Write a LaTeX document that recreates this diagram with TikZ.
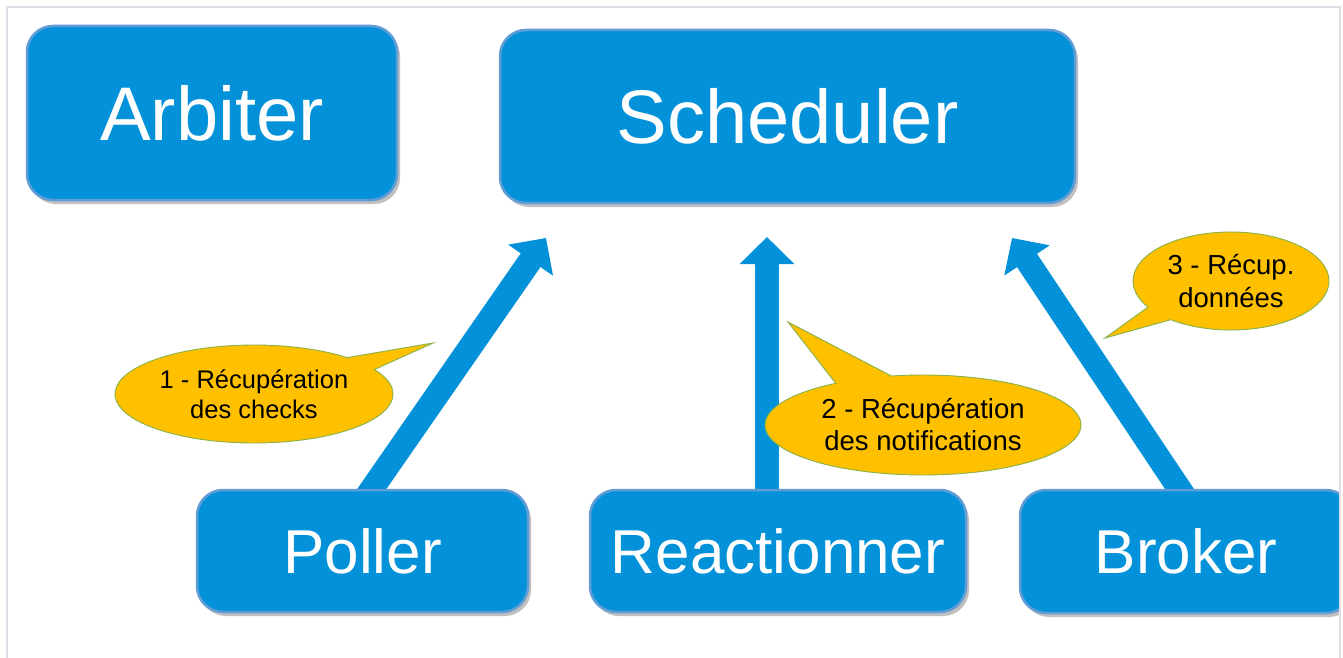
\documentclass[tikz,border=0pt]{standalone}
\usepackage{fontspec}
\setmainfont{Liberation Sans}
\usetikzlibrary{arrows.meta,shapes.callouts,shadows,backgrounds}
\definecolor{boxblue}{RGB}{3,146,217}
\definecolor{boxedge}{RGB}{98,156,214}
\definecolor{calloutfill}{RGB}{255,192,0}
\definecolor{calloutedge}{RGB}{135,178,72}
\definecolor{framegray}{RGB}{222,222,230}
\begin{document}
\begin{tikzpicture}[x=1pt,y=-1pt,
  bluebox/.style={draw=boxedge, line width=2.5pt, fill=boxblue, rounded corners=26pt,
    inner sep=0pt, text=white,
    drop shadow={shadow xshift=3pt, shadow yshift=-4pt, opacity=0.35, fill=black!70}},
  bigtext/.style={font=\fontsize{76}{90}\selectfont},
  smalltext/.style={font=\fontsize{62}{74}\selectfont},
  bubble/.style={ellipse callout, draw=calloutedge, line width=0.9pt, fill=calloutfill,
    inner sep=0pt, align=center, text=black},
  bigarrow/.style={draw=boxblue, line width=24pt,
    -{Triangle[width=53pt,length=27pt]}},
  frameline/.style={draw=framegray, line width=1.5pt}
]
\useasboundingbox (0,0) rectangle (1343,658);

% top boxes
\node[bluebox, bigtext, minimum width=370pt, minimum height=174pt] (arbiter) at (212,113) {Arbiter};
\node[bluebox, bigtext, minimum width=575pt, minimum height=173pt] (scheduler) at (787.5,116.5) {Scheduler};

% bottom boxes
\node[bluebox, smalltext, minimum width=331pt, minimum height=122pt] (poller) at (362.5,551) {Poller};
\node[bluebox, smalltext, minimum width=376pt, minimum height=122pt] (reactionner) at (778,551) {Reactionner};
\begin{scope}
  \clip (0,0) rectangle (1340,658);
  \node[bluebox, smalltext, minimum width=332pt, minimum height=123pt] (broker) at (1186,551.5) {Broker};
\end{scope}

% arrows (behind boxes)
\coordinate (t1) at (546,238);
\coordinate (t2) at (767,237);
\coordinate (t3) at (1012,238);
\begin{scope}[on background layer]
  \fill[white] (0,0) rectangle (1343,658);
  \draw[bigarrow] ([shift={(2.5,10)}]poller.north) -- (t1);
  \draw[bigarrow] ([shift={(-11,10)}]reactionner.north) -- (t2);
  \draw[bigarrow] ([shift={(0,10)}]broker.north) -- (t3);
\end{scope}

% callouts
\coordinate (p1) at (433,343);
\coordinate (p2) at (788,322);
\coordinate (p3) at (1105,338);
\node[bubble, minimum width=278pt, minimum height=98pt, callout absolute pointer=(p1),
  callout pointer arc=18, font=\fontsize{25.5}{30}\selectfont] (c1) at (254,394)
  {1 - Récupération\\des checks};
\node[bubble, minimum width=316pt, minimum height=100pt, callout absolute pointer=(p2),
  callout pointer arc=22, font=\fontsize{27.5}{32}\selectfont] (c2) at (923,425)
  {2 - Récupération\\des notifications};
\node[bubble, minimum width=196pt, minimum height=98pt, callout absolute pointer=(p3),
  callout pointer arc=20, font=\fontsize{27.5}{33}\selectfont] (c3) at (1231,281)
  {3 - Récup.\\données};

% frame
\draw[frameline] (7,658) -- (7,7) -- (1340,7) -- (1340,658);
\end{tikzpicture}
\end{document}
